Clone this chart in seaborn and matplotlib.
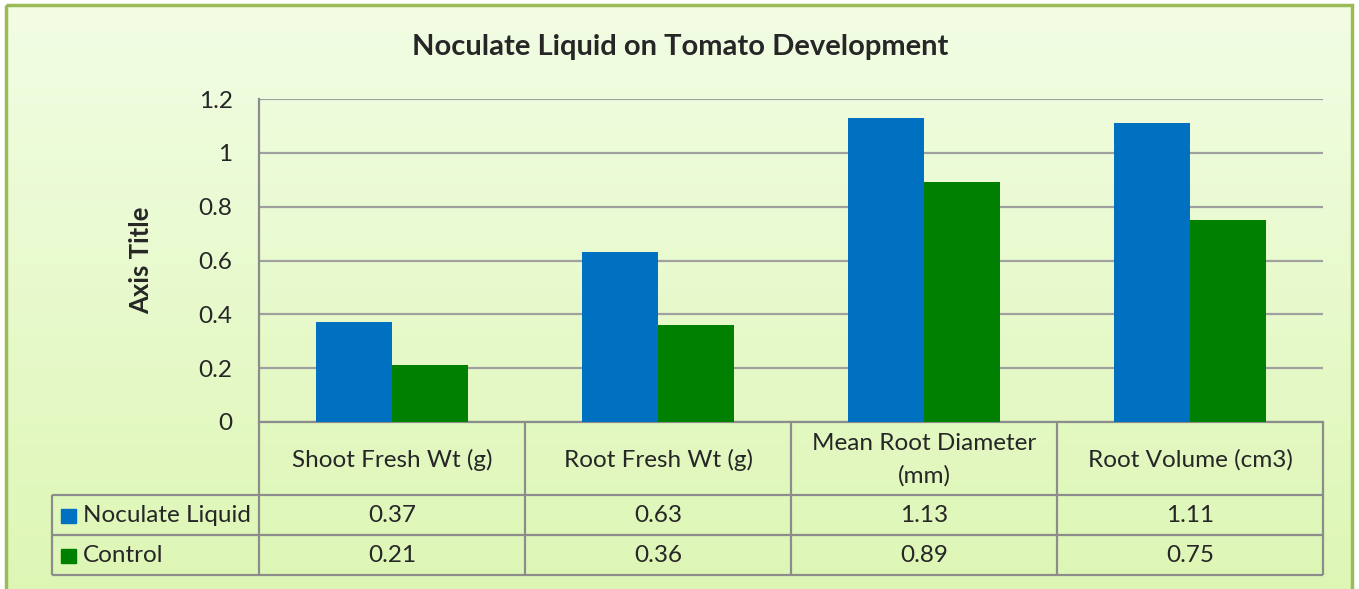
import numpy as np
import pandas as pd
import matplotlib
matplotlib.use("Agg")
import matplotlib.pyplot as plt
import seaborn as sns
from matplotlib.patches import Rectangle
from matplotlib.colors import to_rgb

# data
categories = ["Shoot Fresh Wt (g)", "Root Fresh Wt (g)",
              "Mean Root Diameter\n(mm)", "Root Volume (cm3)"]
series = ["Noculate Liquid", "Control"]
noculate = [0.37, 0.63, 1.13, 1.11]
control = [0.21, 0.36, 0.89, 0.75]
yticks = [0, 0.2, 0.4, 0.6, 0.8, 1, 1.2]
ytick_labels = ["0", "0.2", "0.4", "0.6", "0.8", "1", "1.2"]
colors = ["#0070C0", "#008000"]

df = pd.DataFrame({
    "category": categories * 2,
    "series": [series[0]] * len(categories) + [series[1]] * len(categories),
    "value": noculate + control,
})

sns.set_style("white")
plt.rcParams["font.family"] = ["Lato", "DejaVu Sans"]
FS = 17.5

W, H = 1359, 589
fig = plt.figure(figsize=(W / 100, H / 100), dpi=100)

# -------------------------------
# background: gradient + green frame (pixel coords, y down)
# -------------------------------
bg = fig.add_axes([0, 0, 1, 1], zorder=0)
top_c = np.array(to_rgb("#F2FDE4"))
bot_c = np.array(to_rgb("#DCF6B2"))
t = np.linspace(0, 1, 256).reshape(-1, 1, 1)
grad = top_c + (bot_c - top_c) * t
bg.imshow(grad, extent=[7, 1352, 620, 6], aspect="auto", interpolation="bilinear")
bg.add_patch(Rectangle((6, 5), 1346, 620, fill=False, edgecolor="#9BBB59", lw=2.5))
bg.set_xlim(0, W)
bg.set_ylim(H, 0)
bg.axis("off")

# -------------------------------
# bar chart
# -------------------------------
ax = fig.add_axes([259 / W, 1 - 422 / H, (1323 - 259) / W, (422 - 99) / H], zorder=1)
ax.patch.set_alpha(0)
sns.barplot(data=df, x="category", y="value", hue="series", palette=colors,
            width=0.568, saturation=1, legend=False, ax=ax, zorder=3,
            linewidth=0, edgecolor="none")

ax.set_xlim(-0.5, len(categories) - 0.5)
ax.set_ylim(0, 1.2)
ax.set_yticks(yticks, ytick_labels)
ax.set_xticks([])
ax.set_xlabel("")
ax.yaxis.grid(True, color="#A0A0A0", lw=1.6)
ax.set_axisbelow(True)
ax.tick_params(axis="y", length=0, pad=19, labelsize=FS)
for s in ["top", "right"]:
    ax.spines[s].set_visible(False)
for s in ["left", "bottom"]:
    ax.spines[s].set_color("#8C8C8C")
    ax.spines[s].set_linewidth(1.6)
ax.set_ylabel("Axis Title", fontsize=18.5, fontweight="bold")
ax.yaxis.set_label_coords((153 - 259) / (1323 - 259), 0.5)

fig.text(680 / W, 1 - 47 / H, "Noculate Liquid on Tomato Development",
         ha="center", va="center", fontsize=21, fontweight="bold")

# -------------------------------
# data table under the axis
# -------------------------------
def px(xd):
    return ax.transData.transform((xd, 0))[0]

line_kw = dict(color="#8C8C8C", lw=1.6, solid_capstyle="butt")
bounds = [px(i - 0.5) for i in range(len(categories) + 1)]
for b in bounds:
    bg.plot([b, b], [422, 575], **line_kw)
bg.plot([52, 52], [495, 575], **line_kw)
for yy in [495, 535, 575]:
    bg.plot([52, bounds[-1]], [yy, yy], **line_kw)

for i, cat in enumerate(categories):
    bg.text(px(i), 460, cat, ha="center", va="center", fontsize=FS, linespacing=1.6)
    bg.text(px(i), 516, f"{noculate[i]:.2f}", ha="center", va="center", fontsize=FS)
    bg.text(px(i), 556, f"{control[i]:.2f}", ha="center", va="center", fontsize=FS)

for name, col, yc in zip(series, colors, [516, 556]):
    bg.add_patch(Rectangle((61, yc - 7), 15, 14, color=col))
    bg.text(83, yc, name, ha="left", va="center", fontsize=FS)

fig.savefig("out.png", dpi=100)
